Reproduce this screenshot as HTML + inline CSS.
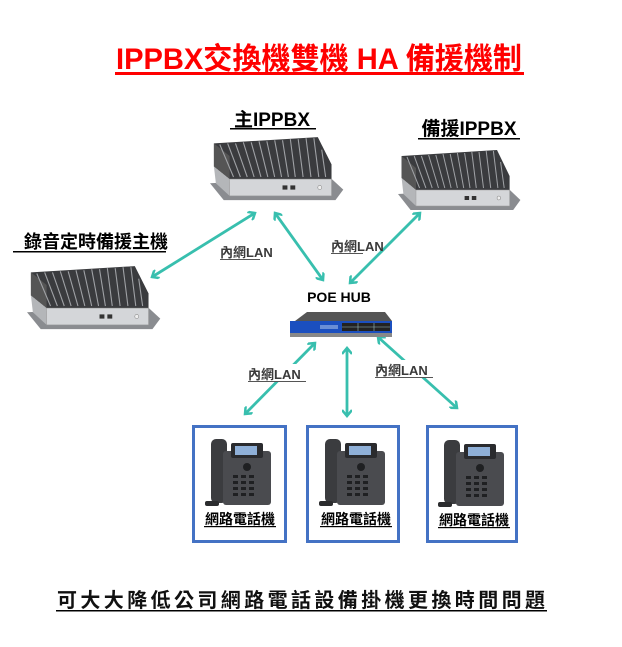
<!DOCTYPE html>
<html><head><meta charset="utf-8"><style>
html,body{margin:0;padding:0;background:#fff;width:622px;height:647px;overflow:hidden}
svg text{font-family:"Liberation Sans","Noto Sans CJK TC",sans-serif;font-weight:bold}
</style></head><body>
<svg width="622" height="647" viewBox="0 0 622 647" xmlns="http://www.w3.org/2000/svg">
<defs>
<g id="srv">
 <polygon points="0,46 14,62 128,62 136,52 122,40" fill="#8a8c90"/>
 <polygon points="4,8 110,2 124,28 124,42 20,42 4,30" fill="#3a3b3e"/>
 <polygon points="4,8 20,20 20,42 4,30" fill="#555"/>
 <g stroke="#a0a2a6" stroke-width="1.1">
  <line x1="10" y1="9" x2="24" y2="40"/><line x1="18" y1="8" x2="31" y2="40"/><line x1="26" y1="8" x2="38" y2="40"/>
  <line x1="34" y1="7" x2="45" y2="40"/><line x1="42" y1="7" x2="52" y2="40"/><line x1="50" y1="6" x2="59" y2="40"/>
  <line x1="58" y1="6" x2="66" y2="40"/><line x1="66" y1="5" x2="73" y2="40"/><line x1="74" y1="5" x2="80" y2="40"/>
  <line x1="82" y1="4" x2="87" y2="40"/><line x1="90" y1="4" x2="95" y2="40"/><line x1="98" y1="3" x2="103" y2="40"/>
  <line x1="106" y1="3" x2="111" y2="40"/><line x1="114" y1="14" x2="118" y2="40"/>
 </g>
 <polygon points="4,30 20,42 20,58 6,46" fill="#b4b6b9"/>
 <rect x="20" y="42" width="104" height="16" fill="#d4d6d9" stroke="#999" stroke-width="0.5"/>
 <rect x="74" y="48" width="5" height="4" fill="#333"/><rect x="82" y="48" width="5" height="4" fill="#333"/>
 <circle cx="112" cy="50" r="2" fill="#eee" stroke="#777" stroke-width="0.5"/>
</g>
<g id="phone">
 <rect x="8" y="2" width="16" height="64" rx="5" fill="#3b3c3f"/>
 <rect x="20" y="14" width="48" height="54" rx="3" fill="#4a4b4f"/>
 <rect x="28" y="6" width="32" height="15" rx="2" fill="#2a2b2e"/>
 <rect x="32" y="9" width="22" height="9" fill="#8fb0d8"/>
 <g fill="#1f2022">
  <circle cx="44" cy="30" r="4"/>
  <rect x="30" y="38" width="5" height="3"/><rect x="38" y="38" width="5" height="3"/><rect x="46" y="38" width="5" height="3"/>
  <rect x="30" y="44" width="5" height="3"/><rect x="38" y="44" width="5" height="3"/><rect x="46" y="44" width="5" height="3"/>
  <rect x="30" y="50" width="5" height="3"/><rect x="38" y="50" width="5" height="3"/><rect x="46" y="50" width="5" height="3"/>
  <rect x="30" y="56" width="5" height="3"/><rect x="38" y="56" width="5" height="3"/><rect x="46" y="56" width="5" height="3"/>
 </g>
 <rect x="2" y="64" width="14" height="5" rx="2" fill="#2b2c2e"/>
</g>
<marker id="ah" markerWidth="10" markerHeight="10" refX="7" refY="5" orient="auto-start-reverse" markerUnits="userSpaceOnUse">
 <polyline points="1,0 7,5 1,10" fill="none" stroke="#38bfae" stroke-width="2.5"/>
</marker>
</defs>

<text x="319" y="69" font-size="30" fill="#f00" text-anchor="middle" textLength="406" lengthAdjust="spacingAndGlyphs">IPPBX交換機雙機 HA 備援機制</text>
<rect x="115" y="72" width="409" height="3" fill="#f00"/>

<text x="272" y="126" font-size="19" fill="#000" text-anchor="middle">主IPPBX</text>
<rect x="230" y="128" width="86" height="1.5" fill="#000"/>
<text x="469" y="135" font-size="19" fill="#000" text-anchor="middle">備援IPPBX</text>
<rect x="418" y="138" width="102" height="1.5" fill="#000"/>
<text x="96" y="248" font-size="18" fill="#000" text-anchor="middle">錄音定時備援主機</text>
<rect x="13" y="251" width="153" height="1.5" fill="#000"/>

<use href="#srv" transform="translate(210,135) scale(0.98,1.05)"/>
<use href="#srv" transform="translate(398,148) scale(0.9,1.0)"/>
<use href="#srv" transform="translate(27,264) scale(0.98,1.05)"/>

<g stroke="#38bfae" stroke-width="2.8" fill="none">
 <line x1="255" y1="213" x2="152" y2="277" marker-start="url(#ah)" marker-end="url(#ah)"/>
 <line x1="275" y1="213" x2="323" y2="280" marker-start="url(#ah)" marker-end="url(#ah)"/>
 <line x1="420" y1="213" x2="350" y2="283" marker-start="url(#ah)" marker-end="url(#ah)"/>
 <line x1="315" y1="343" x2="245" y2="414" marker-start="url(#ah)" marker-end="url(#ah)"/>
 <line x1="347" y1="348" x2="347" y2="416" marker-start="url(#ah)" marker-end="url(#ah)"/>
 <line x1="378" y1="337" x2="457" y2="408" marker-start="url(#ah)" marker-end="url(#ah)"/>
</g>

<g font-size="13" fill="#3a3a3a">
 <rect x="218" y="243" width="44" height="18" fill="#fff"/>
 <text x="220" y="257">內網LAN</text><rect x="220" y="259" width="40" height="1" fill="#555"/>
 <rect x="328" y="236" width="38" height="18" fill="#fff"/>
 <text x="331" y="251">內網LAN</text><rect x="331" y="253" width="32" height="1" fill="#555"/>
 <rect x="246" y="364" width="62" height="18" fill="#fff"/>
 <text x="248" y="379">內網LAN</text><rect x="248" y="381" width="58" height="1" fill="#555"/>
 <rect x="373" y="360" width="62" height="18" fill="#fff"/>
 <text x="375" y="375">內網LAN</text><rect x="375" y="377" width="58" height="1" fill="#555"/>
</g>

<text x="339" y="302" font-size="14" fill="#000" text-anchor="middle">POE HUB</text>
<polygon points="295,321 307,312 385,312 392,321" fill="#555"/>
<rect x="290" y="321" width="102" height="12" fill="#1b4fbf"/>
<rect x="290" y="333" width="102" height="4" fill="#888"/>
<rect x="342" y="323" width="48" height="8" fill="#222"/>
<g stroke="#9bb" stroke-width="0.6">
 <line x1="342" y1="327" x2="390" y2="327"/>
 <line x1="358" y1="323" x2="358" y2="331"/><line x1="374" y1="323" x2="374" y2="331"/>
</g>
<rect x="320" y="325" width="18" height="4" fill="#6b8fd6"/>

<g fill="none" stroke="#4472c4" stroke-width="3">
 <rect x="193.5" y="426.5" width="92" height="115"/>
 <rect x="307.5" y="426.5" width="91" height="115"/>
 <rect x="427.5" y="426.5" width="89" height="115"/>
</g>
<use href="#phone" transform="translate(203,437)"/>
<use href="#phone" transform="translate(317,437)"/>
<use href="#phone" transform="translate(436,438)"/>
<g font-size="14" fill="#000" text-anchor="middle">
 <text x="240" y="524">網路電話機</text><rect x="204" y="526" width="72" height="1.2" fill="#000"/>
 <text x="356" y="524">網路電話機</text><rect x="320" y="526" width="72" height="1.2" fill="#000"/>
 <text x="474" y="525">網路電話機</text><rect x="438" y="527" width="72" height="1.2" fill="#000"/>
</g>

<text x="57" y="607" font-size="20" fill="#111" letter-spacing="3.4">可大大降低公司網路電話設備掛機更換時間問題</text>
<rect x="56" y="610" width="491" height="1.5" fill="#000"/>
</svg>
</body></html>
